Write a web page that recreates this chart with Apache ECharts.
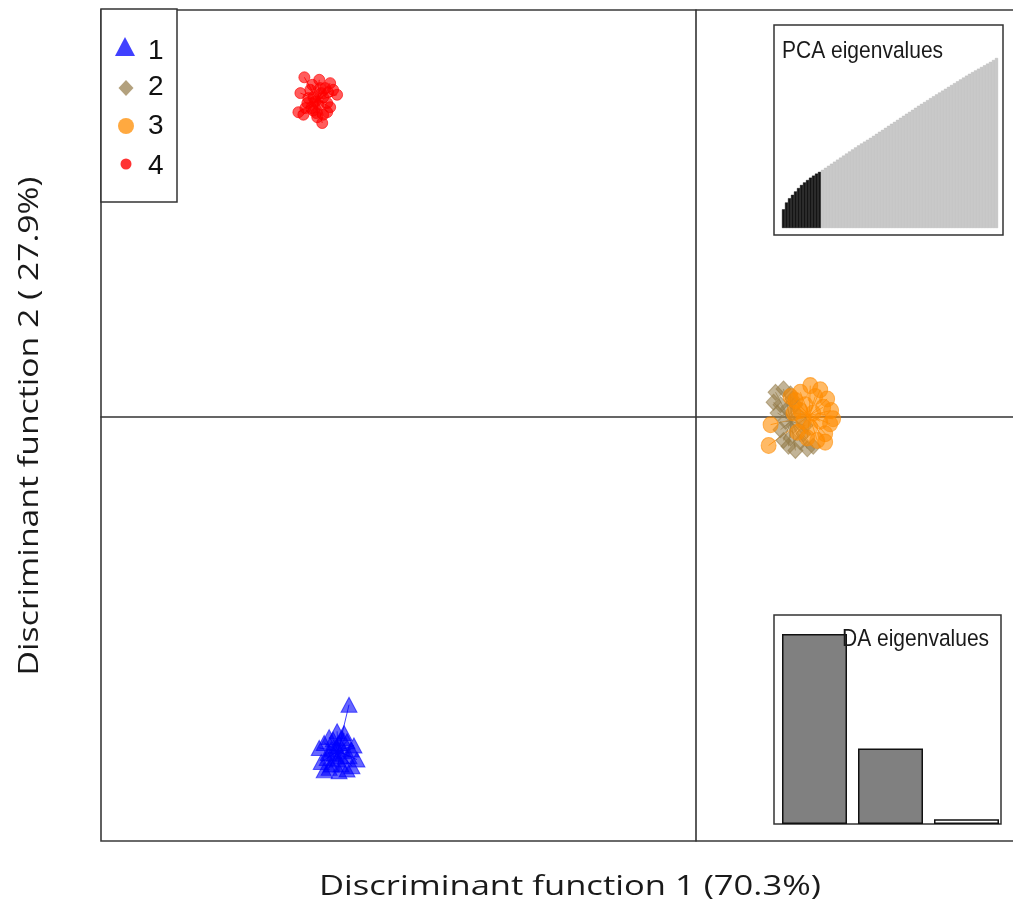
<!DOCTYPE html>
<html>
<head>
<meta charset="utf-8">
<script src="https://cdn.jsdelivr.net/npm/echarts@6/dist/echarts.min.js"></script>
<style>
  html, body { margin: 0; padding: 0; background: #ffffff; }
  #chart { width: 1013px; height: 916px; }
</style>
</head>
<body>
<div id="chart"></div>
<script>
// Group labels
const groups = ['1', '2', '3', '4'];

// Group 1 (discriminant scores)
const g1x = [-3.62, -3.55, -3.70, -3.52, -3.75, -3.60, -3.45, -3.80, -3.68, -3.55, -3.50, -3.72, -3.62, -3.78, -3.42, -3.58, -3.70, -3.52, -3.65, -3.75, -3.66, -3.58, -3.48, -3.68, -3.60, -3.63, -3.57, -3.71, -3.47, -3.50];
const g1y = [-3.78, -3.80, -3.85, -3.90, -3.92, -3.92, -3.95, -3.98, -4.00, -4.02, -4.08, -4.10, -4.12, -4.15, -4.12, -4.18, -4.22, -4.24, -4.05, -4.25, -3.88, -4.08, -4.00, -4.18, -4.26, -3.96, -3.86, -4.04, -4.20, -3.46];

// Group 2
const g2x = [0.80, 0.88, 0.95, 0.85, 0.92, 0.82, 0.90, 0.98, 0.85, 0.95, 1.05, 1.12, 1.00, 1.18, 1.08, 0.78, 1.00, 0.93, 1.10, 0.88, 1.03, 0.97];
const g2y = [0.30, 0.34, 0.28, 0.15, 0.10, 0.05, -0.05, -0.10, -0.15, -0.25, -0.30, -0.38, -0.40, -0.35, -0.20, 0.18, 0.15, -0.35, -0.10, -0.28, 0.02, 0.22];

// Group 3
const g3x = [1.05, 1.15, 1.25, 1.32, 1.36, 1.35, 1.30, 1.22, 1.12, 1.02, 0.98, 1.00, 1.10, 1.18, 1.25, 1.08, 1.15, 1.28, 1.20, 0.95, 1.38, 1.05, 0.75, 0.73, 1.30];
const g3y = [0.30, 0.38, 0.33, 0.22, 0.08, -0.08, -0.20, -0.28, -0.25, -0.18, 0.05, 0.20, 0.15, 0.05, -0.05, -0.05, -0.12, 0.12, 0.25, 0.25, -0.02, 0.08, -0.09, -0.34, -0.30];

// Group 4
const g4x = [-3.95, -3.80, -3.69, -3.66, -3.62, -3.99, -3.89, -3.86, -3.76, -3.72, -3.92, -4.01, -3.96, -3.86, -3.82, -3.76, -3.77, -3.69, -3.87, -3.79, -3.71, -3.91, -3.81, -3.72, -3.94, -3.84, -3.78, -3.88, -3.74, -3.83];
const g4y = [4.09, 4.06, 4.02, 3.94, 3.88, 3.90, 3.94, 3.85, 3.85, 3.78, 3.78, 3.67, 3.64, 3.69, 3.61, 3.64, 3.54, 3.73, 4.00, 3.96, 3.91, 3.84, 3.76, 3.67, 3.72, 3.80, 3.90, 3.72, 3.96, 3.66];

// Cumulative PCA eigenvalues (scaled), first pcaRetained kept
const pcaEigen = [0.11, 0.15, 0.175, 0.195, 0.215, 0.235, 0.253, 0.268, 0.282, 0.296, 0.308, 0.32, 0.33,
  0.342, 0.354, 0.366, 0.378, 0.39, 0.402, 0.414, 0.426, 0.438, 0.45, 0.462, 0.474, 0.486, 0.497, 0.508, 0.519, 0.53,
  0.542, 0.554, 0.566, 0.577, 0.589, 0.601, 0.613, 0.624, 0.636, 0.648, 0.66, 0.672, 0.683, 0.695, 0.707, 0.719,
  0.73, 0.741, 0.752, 0.764, 0.775, 0.786, 0.797, 0.808, 0.819, 0.83, 0.841, 0.852, 0.863, 0.874, 0.885, 0.896, 0.907,
  0.917, 0.927, 0.937, 0.947, 0.957, 0.967, 0.977, 0.988, 1.0];
const pcaRetained = 13;

// DA eigenvalues (% of between-group variance)
const daEigen = [70.3, 27.9, 1.8];
const daRetained = 2;

const axisTitles = ['Discriminant function 1 (70.3%)', 'Discriminant function 2 ( 27.9%)'];
const insetTitles = ['PCA eigenvalues', 'DA eigenvalues'];

const groupX = [g1x, g2x, g3x, g4x];
const groupY = [g1y, g2y, g3y, g4y];
const colors = ['rgba(0,0,255,0.75)', 'rgba(150,125,75,0.72)', 'rgba(255,140,0,0.75)', 'rgba(255,0,0,0.8)'];
const symbols = ['triangle', 'diamond', 'circle', 'circle'];
const sizes = [[16, 15], [15, 16], [15, 16], [11, 11]];

const chart = echarts.init(document.getElementById('chart'), null, { renderer: 'canvas' });

const series = [];

// centroid-to-point segments for each group
groupX.forEach((xs, g) => {
  const ys = groupY[g];
  const cx = xs.reduce((a, b) => a + b, 0) / xs.length;
  const cy = ys.reduce((a, b) => a + b, 0) / ys.length;
  series.push({
    type: 'lines',
    coordinateSystem: 'cartesian2d',
    xAxisIndex: 0, yAxisIndex: 0,
    silent: true,
    z: 1,
    lineStyle: { color: colors[g], width: 1, opacity: 1 },
    data: xs.map((x, i) => ({ coords: [[cx, cy], [x, ys[i]]] }))
  });
});

// group points
groupX.forEach((xs, g) => {
  const ys = groupY[g];
  series.push({
    name: groups[g],
    type: 'scatter',
    xAxisIndex: 0, yAxisIndex: 0,
    symbol: symbols[g],
    symbolSize: sizes[g],
    z: 3,
    itemStyle: { color: colors[g], borderColor: colors[g], borderWidth: 1 },
    data: xs.map((x, i) => [x, ys[i]])
  });
});

// PCA eigenvalue inset
series.push({
  type: 'bar',
  xAxisIndex: 1, yAxisIndex: 1,
  barCategoryGap: '0%',
  silent: true,
  z: 4,
  data: pcaEigen.map((v, i) => ({
    value: v,
    itemStyle: i < pcaRetained
      ? { color: '#141414', borderColor: '#000000', borderWidth: 0.4 }
      : { color: '#c8c8c8', borderColor: '#b2b2b2', borderWidth: 0.4 }
  }))
});

// DA eigenvalue inset
series.push({
  type: 'bar',
  xAxisIndex: 2, yAxisIndex: 2,
  barWidth: 65,
  silent: true,
  z: 4,
  data: daEigen.map((v, i) => ({
    value: v,
    itemStyle: { color: i < daRetained ? '#808080' : '#ffffff', borderColor: '#111111', borderWidth: 1.5 }
  }))
});

const option = {
  backgroundColor: '#ffffff',
  animation: false,
  grid: [
    { left: 101, top: 10, width: 992, height: 831, outerBoundsMode: 'none', show: true, borderColor: '#3a3a3a', borderWidth: 1.6, backgroundColor: 'transparent' },
    { left: 782, top: 58, width: 216, height: 170, outerBoundsMode: 'none' },
    { left: 776.5, top: 634, width: 228, height: 190, outerBoundsMode: 'none' }
  ],
  xAxis: [
    {
      type: 'value', gridIndex: 0, min: -6, max: 4,
      axisLine: { show: true, onZero: true, lineStyle: { color: '#333333', width: 1.6 } },
      axisTick: { show: false }, axisLabel: { show: false }, splitLine: { show: false }
    },
    { type: 'category', gridIndex: 1, data: pcaEigen.map((v, i) => String(i + 1)), show: false },
    { type: 'category', gridIndex: 2, data: daEigen.map((v, i) => String(i + 1)), show: false }
  ],
  yAxis: [
    {
      type: 'value', gridIndex: 0, min: -5.1, max: 4.9,
      axisLine: { show: true, onZero: true, lineStyle: { color: '#333333', width: 1.6 } },
      axisTick: { show: false }, axisLabel: { show: false }, splitLine: { show: false }
    },
    { type: 'value', gridIndex: 1, min: 0, max: 'dataMax', show: false },
    { type: 'value', gridIndex: 2, min: 0, max: 'dataMax', show: false }
  ],
  graphic: [
    // inset frames
    { type: 'rect', z: 2, shape: { x: 774, y: 25, width: 229, height: 210 }, style: { fill: '#ffffff', stroke: '#333333', lineWidth: 1.5 } },
    { type: 'rect', z: 2, shape: { x: 774, y: 615, width: 227, height: 209 }, style: { fill: '#ffffff', stroke: '#333333', lineWidth: 1.5 } },
    { type: 'text', z: 6, x: 782, y: 51, scaleY: 1.15, style: { text: insetTitles[0], font: '21px "Liberation Sans", Arial, sans-serif', fill: '#1a1a1a', align: 'left', verticalAlign: 'middle' } },
    { type: 'text', z: 6, x: 842, y: 639, scaleY: 1.15, style: { text: insetTitles[1], font: '21px "Liberation Sans", Arial, sans-serif', fill: '#1a1a1a', align: 'left', verticalAlign: 'middle' } },
    // legend
    { type: 'rect', z: 2, shape: { x: 101, y: 9, width: 76, height: 193 }, style: { fill: '#ffffff', stroke: '#333333', lineWidth: 1.5 } },
    { type: 'polygon', z: 6, shape: { points: [[125, 37], [135, 56], [115, 56]] }, style: { fill: colors[0] } },
    { type: 'polygon', z: 6, shape: { points: [[126, 80], [133.5, 88], [126, 96], [118.5, 88]] }, style: { fill: colors[1] } },
    { type: 'circle', z: 6, shape: { cx: 126, cy: 126, r: 8 }, style: { fill: colors[2] } },
    { type: 'circle', z: 6, shape: { cx: 126, cy: 164, r: 5.5 }, style: { fill: colors[3] } },
    { type: 'text', z: 6, x: 148, y: 51, style: { text: groups[0], font: '28px "Liberation Sans", Arial, sans-serif', fill: '#111111', align: 'left', verticalAlign: 'middle' } },
    { type: 'text', z: 6, x: 148, y: 87, style: { text: groups[1], font: '28px "Liberation Sans", Arial, sans-serif', fill: '#111111', align: 'left', verticalAlign: 'middle' } },
    { type: 'text', z: 6, x: 148, y: 126, style: { text: groups[2], font: '28px "Liberation Sans", Arial, sans-serif', fill: '#111111', align: 'left', verticalAlign: 'middle' } },
    { type: 'text', z: 6, x: 148, y: 166, style: { text: groups[3], font: '28px "Liberation Sans", Arial, sans-serif', fill: '#111111', align: 'left', verticalAlign: 'middle' } },
    // axis titles
    { type: 'text', z: 6, x: 570, y: 887, scaleX: 1.28, style: { text: axisTitles[0], font: '27px "Open Sans", sans-serif', fill: '#1a1a1a', align: 'center', verticalAlign: 'middle' } },
    { type: 'text', z: 6, x: 30, y: 426, rotation: Math.PI / 2, scaleX: 1.25, style: { text: axisTitles[1], font: '27px "Open Sans", sans-serif', fill: '#1a1a1a', align: 'center', verticalAlign: 'middle' } }
  ],
  series: series
};

chart.setOption(option);
</script>
</body>
</html>
